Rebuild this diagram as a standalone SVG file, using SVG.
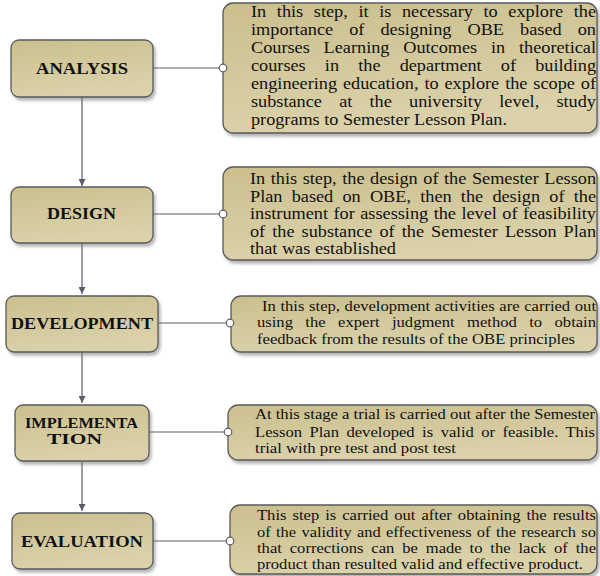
<svg xmlns="http://www.w3.org/2000/svg" width="600" height="576" viewBox="0 0 600 576">
<defs>
<linearGradient id="fillG" x1="0" y1="0" x2="0.3" y2="1">
<stop offset="0" stop-color="#cbbf8d"/>
<stop offset="1" stop-color="#dbd2ab"/>
</linearGradient>
<filter id="shadow" x="-10%" y="-10%" width="125%" height="135%">
<feDropShadow dx="2" dy="3" stdDeviation="1.5" flood-color="#7a7a7a" flood-opacity="0.55"/>
</filter>
<marker id="arrow" viewBox="0 0 10 10" refX="10" refY="5" markerWidth="7" markerHeight="7" markerUnits="userSpaceOnUse" orient="auto">
<path d="M0,0 L10,5 L0,10 Z" fill="#5c5c66"/>
</marker>
</defs>
<style>
.box{fill:url(#fillG);stroke:#5a5a5a;stroke-width:1.3;filter:url(#shadow)}
.lbl{font-family:"Liberation Serif","Times New Roman",serif;font-weight:bold;fill:#111;text-anchor:start}
.d16{font-family:"Liberation Serif","Times New Roman",serif;font-size:16px;fill:#111}
.d15{font-family:"Liberation Serif","Times New Roman",serif;font-size:15px;fill:#111}
.ln{stroke:#5c5c66;stroke-width:1.2;fill:none}
.dot{fill:#ffffff;stroke:#5c5c66;stroke-width:1.2}
</style>

<g id="connectors">
<line class="ln" x1="82" y1="97" x2="82" y2="186" marker-end="url(#arrow)"/>
<line class="ln" x1="82" y1="243" x2="82" y2="294" marker-end="url(#arrow)"/>
<line class="ln" x1="82" y1="352" x2="82" y2="403" marker-end="url(#arrow)"/>
<line class="ln" x1="82" y1="461" x2="82" y2="511" marker-end="url(#arrow)"/>
<line class="ln" x1="153" y1="68" x2="219.5" y2="68"/>
<line class="ln" x1="153" y1="214" x2="219.5" y2="214"/>
<line class="ln" x1="158" y1="323" x2="226.5" y2="323"/>
<line class="ln" x1="149" y1="432" x2="224.5" y2="432"/>
<line class="ln" x1="153" y1="541" x2="226.5" y2="541"/>
</g>

<g id="analysis">
<rect class="box" x="11" y="40" width="142" height="57" rx="8"/>
<text class="lbl" x="36" y="74" font-size="16" textLength="92" lengthAdjust="spacingAndGlyphs">ANALYSIS</text>
</g>
<g id="design">
<rect class="box" x="11" y="187" width="142" height="56" rx="8"/>
<text class="lbl" x="47" y="219" font-size="16" textLength="69" lengthAdjust="spacingAndGlyphs">DESIGN</text>
</g>
<g id="development">
<rect class="box" x="6" y="296" width="152" height="56" rx="8"/>
<text class="lbl" x="11" y="329" font-size="16" textLength="142" lengthAdjust="spacingAndGlyphs">DEVELOPMENT</text>
</g>
<g id="implementation">
<rect class="box" x="15" y="405" width="134" height="56" rx="8"/>
<text class="lbl" x="25" y="428" font-size="14" textLength="113" lengthAdjust="spacingAndGlyphs">IMPLEMENTA</text>
<text class="lbl" x="47" y="444" font-size="14" textLength="55" lengthAdjust="spacingAndGlyphs">TION</text>
</g>
<g id="evaluation">
<rect class="box" x="12" y="513" width="141" height="56" rx="8"/>
<text class="lbl" x="21" y="547" font-size="16" textLength="122" lengthAdjust="spacingAndGlyphs">EVALUATION</text>
</g>

<g id="desc-analysis">
<rect class="box" x="223" y="3" width="374" height="130" rx="10"/>
<circle class="dot" cx="223" cy="68" r="3.8"/>
<text class="d16" x="251" y="17" textLength="345" lengthAdjust="spacingAndGlyphs" style="word-spacing:5.3px">In this step, it is necessary to explore the</text>
<text class="d16" x="251" y="35" textLength="345" lengthAdjust="spacingAndGlyphs" style="word-spacing:10.1px">importance of designing OBE based on</text>
<text class="d16" x="251" y="53" textLength="345" lengthAdjust="spacingAndGlyphs" style="word-spacing:8.1px">Courses Learning Outcomes in theoretical</text>
<text class="d16" x="251" y="71" textLength="345" lengthAdjust="spacingAndGlyphs" style="word-spacing:12.8px">courses in the department of building</text>
<text class="d16" x="251" y="89" textLength="345" lengthAdjust="spacingAndGlyphs" style="word-spacing:1.2px">engineering education, to explore the scope of</text>
<text class="d16" x="251" y="107" textLength="345" lengthAdjust="spacingAndGlyphs" style="word-spacing:11.1px">substance at the university level, study</text>
<text class="d16" x="251" y="125" textLength="256" lengthAdjust="spacingAndGlyphs">programs to Semester Lesson Plan.</text>
</g>

<g id="desc-design">
<rect class="box" x="223" y="167" width="374" height="93" rx="10"/>
<circle class="dot" cx="223" cy="214" r="3.8"/>
<text class="d16" x="250" y="184" textLength="346" lengthAdjust="spacingAndGlyphs" style="word-spacing:0.9px">In this step, the design of the Semester Lesson</text>
<text class="d16" x="250" y="202" textLength="346" lengthAdjust="spacingAndGlyphs" style="word-spacing:4.1px">Plan based on OBE, then the design of the</text>
<text class="d16" x="250" y="219" textLength="346" lengthAdjust="spacingAndGlyphs" style="word-spacing:0.8px">instrument for assessing the level of feasibility</text>
<text class="d16" x="250" y="237" textLength="346" lengthAdjust="spacingAndGlyphs" style="word-spacing:2.2px">of the substance of the Semester Lesson Plan</text>
<text class="d16" x="250" y="254" textLength="146" lengthAdjust="spacingAndGlyphs">that was established</text>
</g>

<g id="desc-development">
<rect class="box" x="231" y="296" width="366" height="56" rx="10"/>
<circle class="dot" cx="230" cy="323" r="3.8"/>
<text class="d15" x="262" y="311" textLength="334" lengthAdjust="spacingAndGlyphs" style="word-spacing:0.5px">In this step, development activities are carried out</text>
<text class="d15" x="257" y="327" textLength="339" lengthAdjust="spacingAndGlyphs" style="word-spacing:7.5px">using the expert judgment method to obtain</text>
<text class="d15" x="257" y="344" textLength="318" lengthAdjust="spacingAndGlyphs">feedback from the results of the OBE principles</text>
</g>

<g id="desc-implementation">
<rect class="box" x="228" y="405" width="369" height="55" rx="10"/>
<circle class="dot" cx="228" cy="432" r="3.8"/>
<text class="d15" x="255" y="419" textLength="340" lengthAdjust="spacingAndGlyphs">At this stage a trial is carried out after the Semester</text>
<text class="d15" x="255" y="437" textLength="340" lengthAdjust="spacingAndGlyphs" style="word-spacing:3px">Lesson Plan developed is valid or feasible. This</text>
<text class="d15" x="255" y="453" textLength="201" lengthAdjust="spacingAndGlyphs">trial with pre test and post test</text>
</g>

<g id="desc-evaluation">
<rect class="box" x="230" y="505" width="367" height="69" rx="10"/>
<circle class="dot" cx="230" cy="541" r="3.8"/>
<text class="d15" x="257" y="520" textLength="339" lengthAdjust="spacingAndGlyphs" style="word-spacing:1.7px">This step is carried out after obtaining the results</text>
<text class="d15" x="257" y="537" textLength="339" lengthAdjust="spacingAndGlyphs" style="word-spacing:1.1px">of the validity and effectiveness of the research so</text>
<text class="d15" x="257" y="553" textLength="339" lengthAdjust="spacingAndGlyphs" style="word-spacing:3.4px">that corrections can be made to the lack of the</text>
<text class="d15" x="257" y="569" textLength="326" lengthAdjust="spacingAndGlyphs">product than resulted valid and effective product.</text>
</g>
</svg>
